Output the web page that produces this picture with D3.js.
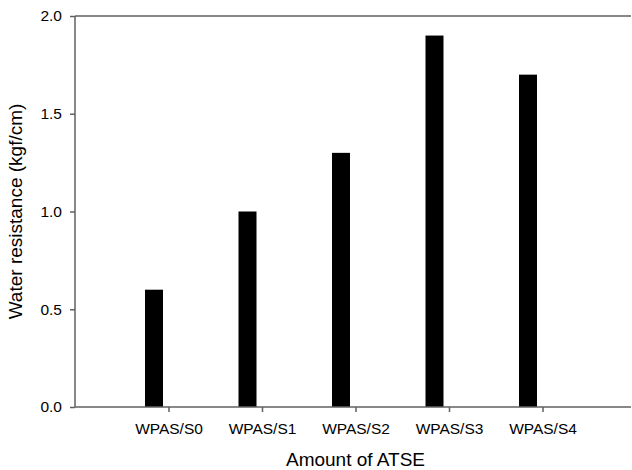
<!DOCTYPE html>
<html>
<head>
<meta charset="utf-8">
<script src="https://cdn.jsdelivr.net/npm/d3@7"></script>
<style>
  html, body { margin: 0; padding: 0; background: #fff; }
  svg { display: block; }
  text { font-family: "Liberation Sans", Arial, sans-serif; fill: #000; }
</style>
</head>
<body>
<script>
// Water resistance for each ATSE formulation
const categories = ["WPAS/S0", "WPAS/S1", "WPAS/S2", "WPAS/S3", "WPAS/S4"];
const resistance = [0.6, 1.0, 1.3, 1.9, 1.7];
const yTicks = [0.0, 0.5, 1.0, 1.5, 2.0];

const W = 632, H = 470;
const plotLeft = 75, plotTop = 16, plotBottom = 407, axisEnd = 631;

const svg = d3.select("body").append("svg")
  .attr("width", W).attr("height", H);

const x = d3.scalePoint()
  .domain(categories)
  .range([plotLeft, 636])
  .padding(1);

const y = d3.scaleLinear()
  .domain([0, 2])
  .range([plotBottom, plotTop]);

const barW = 18, barOffset = -14.5;
const axisColor = "#606060";

// bars sit just left of each category tick
svg.append("g").selectAll("rect")
  .data(categories)
  .join("rect")
  .attr("x", (d) => x(d) + barOffset - barW / 2)
  .attr("y", (d, i) => y(resistance[i]))
  .attr("width", barW)
  .attr("height", (d, i) => plotBottom - y(resistance[i]))
  .attr("fill", "#000");

// y axis
const yAxis = svg.append("g")
  .attr("transform", `translate(${plotLeft},0)`)
  .call(d3.axisLeft(y).tickValues(yTicks).tickFormat(d3.format(".1f"))
    .tickSize(5).tickPadding(8).tickSizeOuter(0));
yAxis.select(".domain").remove();
yAxis.selectAll(".tick line").attr("stroke", axisColor).attr("stroke-width", 1.5);
yAxis.selectAll(".tick text").style("font-size", "15.5px")
  .style("font-family", "'Liberation Sans', Arial, sans-serif").attr("fill", "#000");

// x axis
const xAxis = svg.append("g")
  .attr("transform", `translate(0,${plotBottom})`)
  .call(d3.axisBottom(x).tickSize(5).tickPadding(11).tickSizeOuter(0));
xAxis.select(".domain").remove();
xAxis.selectAll(".tick line").attr("stroke", axisColor).attr("stroke-width", 1.5);
xAxis.selectAll(".tick text").style("font-size", "15.5px")
  .style("font-family", "'Liberation Sans', Arial, sans-serif").attr("fill", "#000");

// frame lines: left, bottom and top
const frame = svg.append("g").attr("stroke", axisColor).attr("stroke-width", 1.5);
frame.append("line").attr("x1", plotLeft).attr("x2", plotLeft).attr("y1", plotTop).attr("y2", plotBottom);
frame.append("line").attr("x1", plotLeft).attr("x2", axisEnd).attr("y1", plotBottom).attr("y2", plotBottom);
frame.append("line").attr("x1", plotLeft).attr("x2", axisEnd).attr("y1", plotTop).attr("y2", plotTop);

// axis titles
svg.append("text")
  .attr("x", (plotLeft + 636) / 2).attr("y", 466)
  .attr("text-anchor", "middle")
  .style("font-size", "19px")
  .text("Amount of ATSE");

svg.append("text")
  .attr("transform", `translate(22,${(plotTop + plotBottom) / 2}) rotate(-90)`)
  .attr("text-anchor", "middle")
  .style("font-size", "19px")
  .text("Water resistance (kgf/cm)");
</script>
</body>
</html>
